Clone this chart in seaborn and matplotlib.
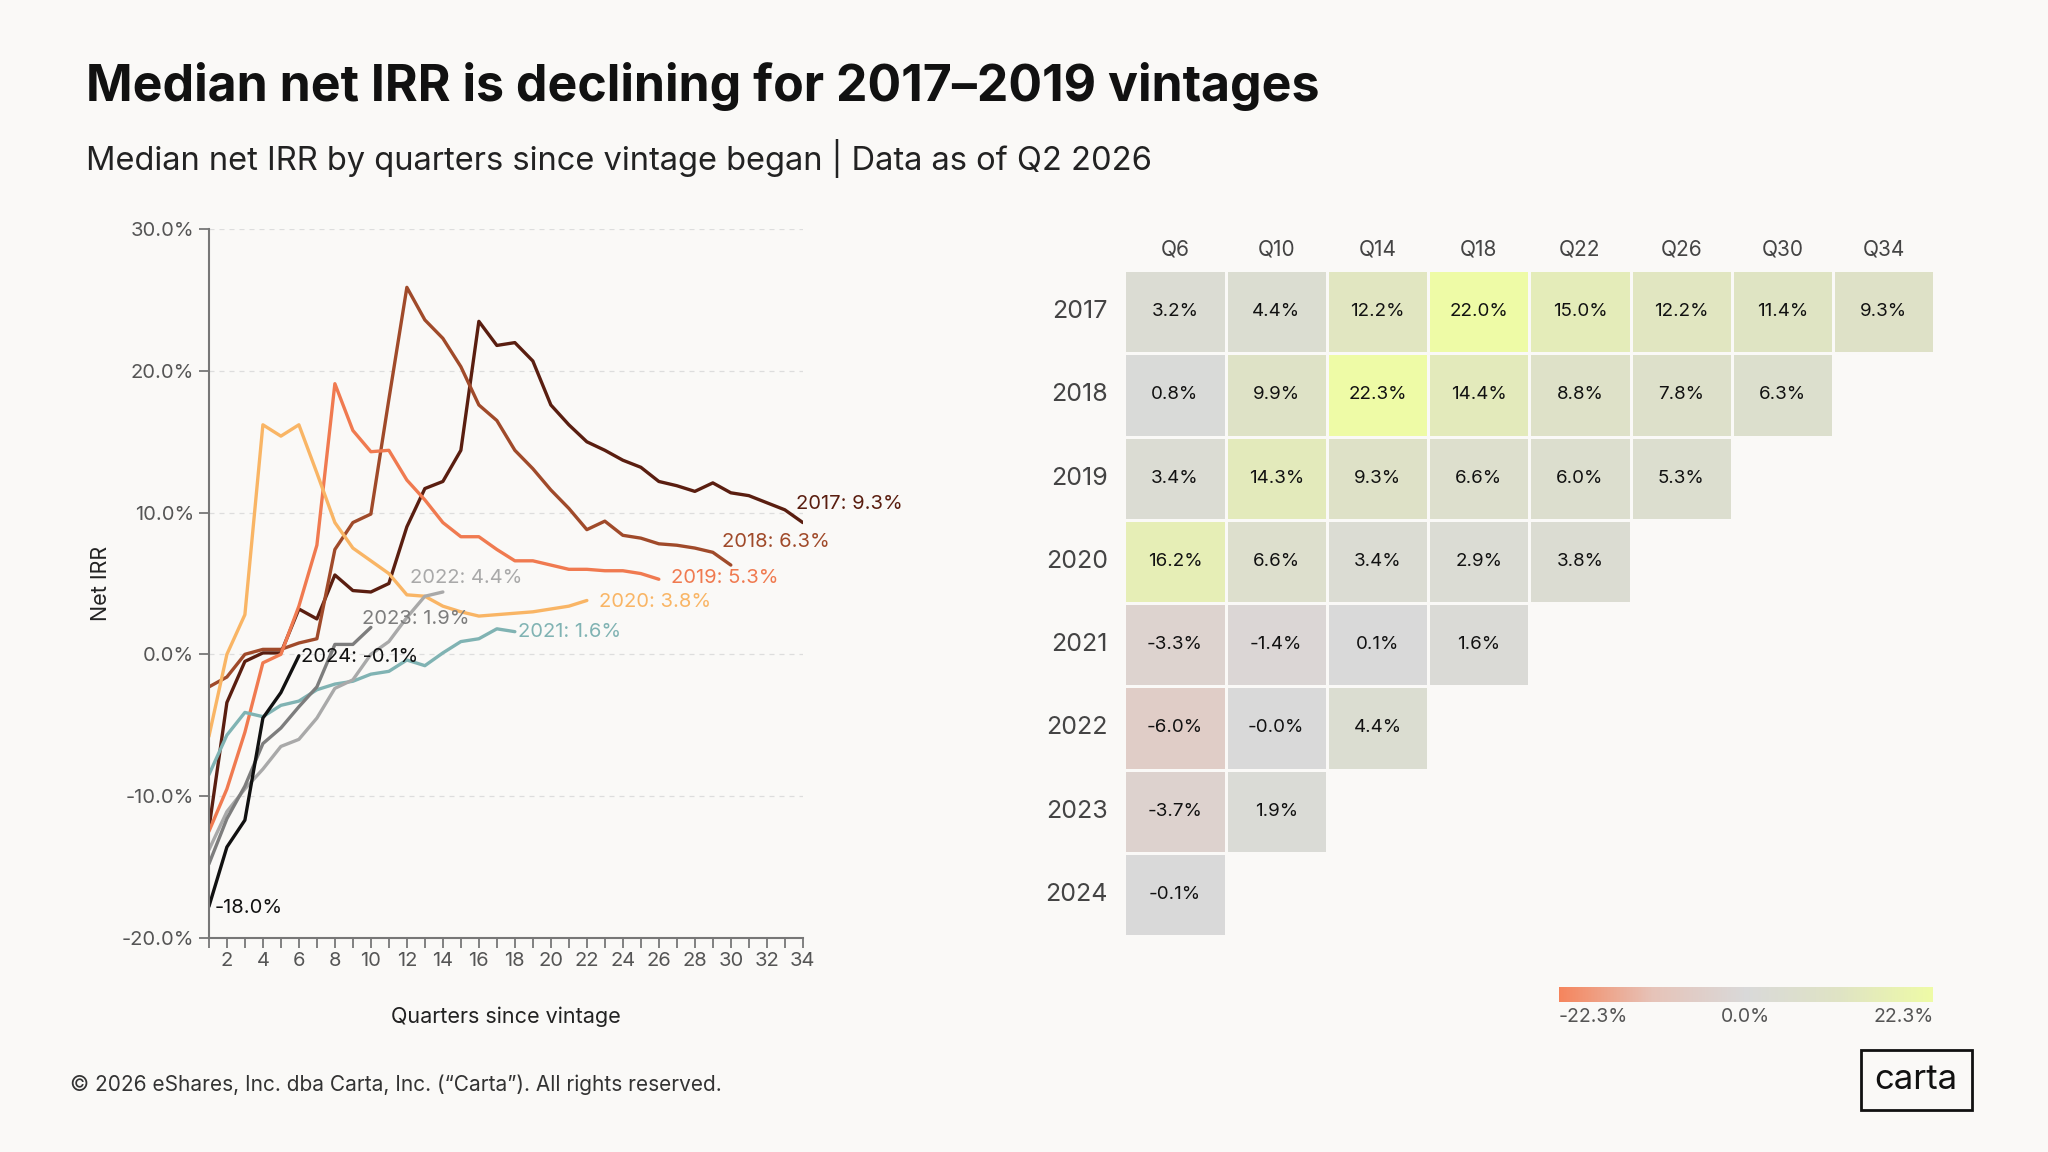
import numpy as np
import pandas as pd
import matplotlib
matplotlib.use("Agg")
import matplotlib.pyplot as plt
import seaborn as sns
from matplotlib.colors import LinearSegmentedColormap, Normalize
from matplotlib.ticker import MultipleLocator, FuncFormatter

# ---- data ----
vintages = ["2017", "2018", "2019", "2020", "2021", "2022", "2023", "2024"]

irr_2017 = [-12.3, -3.4, -0.5, 0.1, 0.1, 3.2, 2.5, 5.6, 4.5, 4.4, 5.0, 9.0, 11.7, 12.2,
            14.4, 23.5, 21.8, 22.0, 20.7, 17.6, 16.2, 15.0, 14.4, 13.7, 13.2, 12.2,
            11.9, 11.5, 12.1, 11.4, 11.2, 10.7, 10.2, 9.3]
irr_2018 = [-2.3, -1.6, 0.0, 0.35, 0.35, 0.8, 1.1, 7.4, 9.3, 9.9, 18.0, 25.9, 23.6, 22.3,
            20.3, 17.6, 16.5, 14.4, 13.1, 11.6, 10.3, 8.8, 9.4, 8.4, 8.2, 7.8,
            7.7, 7.5, 7.2, 6.3]
irr_2019 = [-12.5, -9.5, -5.5, -0.6, 0.0, 3.4, 7.7, 19.1, 15.8, 14.3, 14.4, 12.3, 10.9,
            9.3, 8.3, 8.3, 7.4, 6.6, 6.6, 6.3, 6.0, 6.0, 5.9, 5.9, 5.7, 5.3]
irr_2020 = [-5.8, 0.0, 2.8, 16.2, 15.4, 16.2, 12.8, 9.3, 7.5, 6.6, 5.7, 4.2, 4.1, 3.4,
            3.0, 2.7, 2.8, 2.9, 3.0, 3.2, 3.4, 3.8]
irr_2021 = [-8.5, -5.7, -4.1, -4.4, -3.6, -3.3, -2.5, -2.1, -1.9, -1.4, -1.2, -0.4, -0.8,
            0.1, 0.9, 1.1, 1.8, 1.6]
irr_2022 = [-13.8, -11.1, -9.5, -8.1, -6.5, -6.0, -4.5, -2.4, -1.8, 0.0, 0.9, 2.6, 4.1, 4.4]
irr_2023 = [-14.8, -11.6, -9.3, -6.3, -5.2, -3.7, -2.3, 0.7, 0.7, 1.9]
irr_2024 = [-17.8, -13.6, -11.7, -4.5, -2.7, -0.1]

series = dict(zip(vintages, [irr_2017, irr_2018, irr_2019, irr_2020,
                             irr_2021, irr_2022, irr_2023, irr_2024]))

heat_cols = ["Q6", "Q10", "Q14", "Q18", "Q22", "Q26", "Q30", "Q34"]
heat_2017 = [3.2, 4.4, 12.2, 22.0, 15.0, 12.2, 11.4, 9.3]
heat_2018 = [0.8, 9.9, 22.3, 14.4, 8.8, 7.8, 6.3]
heat_2019 = [3.4, 14.3, 9.3, 6.6, 6.0, 5.3]
heat_2020 = [16.2, 6.6, 3.4, 2.9, 3.8]
heat_2021 = [-3.3, -1.4, 0.1, 1.6]
heat_2022 = [-6.0, -0.0, 4.4]
heat_2023 = [-3.7, 1.9]
heat_2024 = [-0.1]

colors = {"2017": "#5a1e10", "2018": "#a04a2a", "2019": "#f07a50", "2020": "#f9b565",
          "2021": "#80b3b3", "2022": "#a9a9a9", "2023": "#7d7d7d", "2024": "#111111"}

BG = "#faf9f7"
sns.set_theme(style="white")
plt.rcParams["font.family"] = ["Inter", "DejaVu Sans"]

rows = []
for v, vals in series.items():
    for i, val in enumerate(vals):
        rows.append({"vintage": v, "quarter": i + 1, "irr": val})
df = pd.DataFrame(rows)

fig = plt.figure(figsize=(20.48, 11.52), dpi=100, facecolor=BG)

fig.text(0.042, 0.925, "Median net IRR is declining for 2017\u20132019 vintages",
         fontsize=36, fontweight="bold", color="#111", va="center")
fig.text(0.042, 0.862, "Median net IRR by quarters since vintage began | Data as of Q2 2026",
         fontsize=23.5, color="#222", va="center")
fig.text(0.034, 0.058, "\u00a9 2026 eShares, Inc. dba Carta, Inc. (\u201cCarta\u201d). All rights reserved.",
         fontsize=15, color="#333", va="center")

# ---- line chart ----
ax = fig.add_axes([0.102, 0.186, 0.290, 0.615])
ax.set_facecolor(BG)
sns.lineplot(data=df, x="quarter", y="irr", hue="vintage", palette=colors,
             linewidth=2.4, legend=False, ax=ax)
ax.set_xlim(1, 34)
ax.set_ylim(-20, 30)
ax.xaxis.set_minor_locator(MultipleLocator(1))
ax.set_xticks(range(2, 35, 2))
ax.yaxis.set_major_locator(MultipleLocator(10))
ax.yaxis.set_major_formatter(FuncFormatter(lambda v, p: f"{v:.1f}%"))
ax.tick_params(axis="both", which="both", direction="out", color="#777", labelsize=14.5,
               labelcolor="#555", bottom=True, left=True)
ax.tick_params(which="both", length=7, width=1.3)
for s in ["top", "right"]:
    ax.spines[s].set_visible(False)
for s in ["left", "bottom"]:
    ax.spines[s].set_color("#777")
    ax.spines[s].set_linewidth(1.5)
ax.grid(axis="y", linestyle=(0, (4, 4)), color="#dddddd", linewidth=0.9)
ax.set_xlabel("Quarters since vintage", fontsize=15.5, color="#222", labelpad=26)
ax.set_ylabel("Net IRR", fontsize=15.5, color="#222", labelpad=8)

# label anchor (quarter, value) for each end label
label_xy = {"2017": (33.6, 10.6), "2018": (29.5, 7.9), "2019": (26.7, 5.4),
            "2020": (22.7, 3.7), "2021": (18.2, 1.6), "2022": (12.2, 5.4),
            "2023": (9.5, 2.5), "2024": (6.1, -0.2)}
for v, vals in series.items():
    lx, ly = label_xy[v]
    ax.text(lx, ly, f"{v}: {vals[-1]:.1f}%", color=colors[v],
            fontsize=14.5, ha="left", va="center", clip_on=False)
ax.text(1.3, -17.9, "-18.0%", color="#111", fontsize=14.5, va="center")

# ---- heatmap ----
heat_rows = [heat_2017, heat_2018, heat_2019, heat_2020,
             heat_2021, heat_2022, heat_2023, heat_2024]
mat = np.full((len(vintages), len(heat_cols)), np.nan)
for i, r in enumerate(heat_rows):
    mat[i, :len(r)] = r
heat_df = pd.DataFrame(mat, index=vintages, columns=heat_cols)
annot = heat_df.map(lambda v: "" if np.isnan(v) else f"{v:.1f}%")

cmap = LinearSegmentedColormap.from_list(
    "carta", ["#f5845c", "#e6c3b8", "#d9d9d9", "#dfe3c4", "#eefba6"])
vmax = 22.3

hax = fig.add_axes([0.549, 0.1875, 0.3955, 0.578])
hax.set_facecolor(BG)
sns.heatmap(heat_df, ax=hax, cmap=cmap, vmin=-vmax, vmax=vmax, annot=annot, fmt="",
            annot_kws={"fontsize": 13.5, "color": "#111"}, linewidths=2,
            linecolor=BG, cbar=False, mask=heat_df.isna())
hax.xaxis.tick_top()
hax.tick_params(axis="both", length=0, labelcolor="#444")
hax.tick_params(axis="x", labelsize=15, pad=8)
hax.tick_params(axis="y", labelsize=18, pad=12, rotation=0)
hax.set_xlabel("")
hax.set_ylabel("")

cax = fig.add_axes([0.761, 0.130, 0.183, 0.013])
sm = plt.cm.ScalarMappable(norm=Normalize(-vmax, vmax), cmap=cmap)
cb = fig.colorbar(sm, cax=cax, orientation="horizontal")
cb.outline.set_visible(False)
cb.set_ticks([-vmax, 0, vmax])
cb.set_ticklabels(["-22.3%", "0.0%", "22.3%"])
cax.tick_params(length=0, labelsize=14, labelcolor="#555", pad=4)
tl = cax.get_xticklabels()
tl[0].set_ha("left")
tl[-1].set_ha("right")

# ---- logo ----
fig.text(0.9356, 0.0624, "carta", fontsize=25, color="#111", ha="center", va="center",
         bbox=dict(boxstyle="square,pad=0.4", facecolor=BG, edgecolor="#111", linewidth=2))

fig.savefig("out.png", dpi=100, facecolor=BG)
